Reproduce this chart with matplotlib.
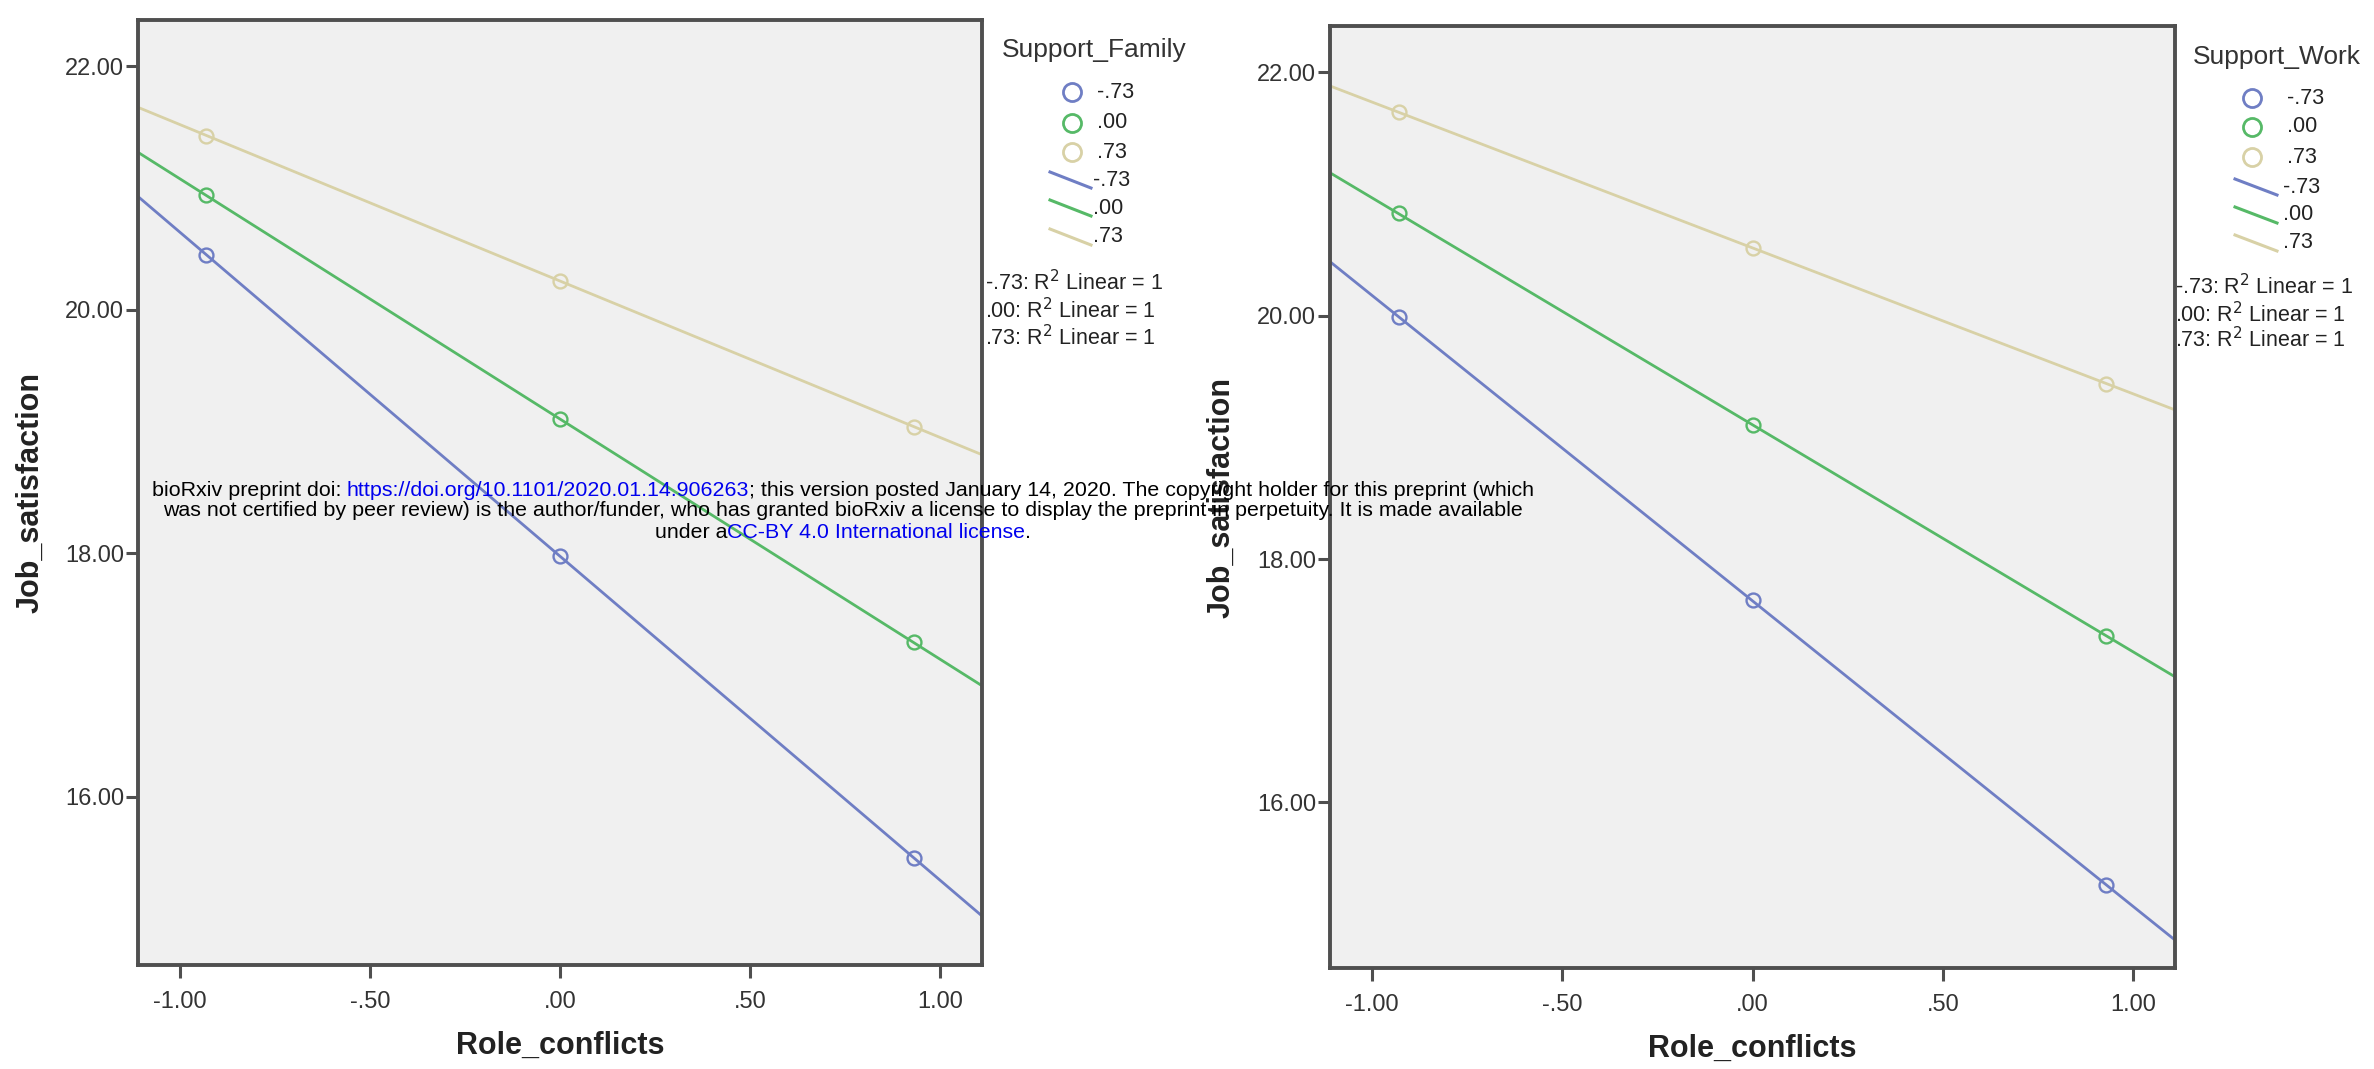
import numpy as np
import matplotlib
matplotlib.use("Agg")
import matplotlib.pyplot as plt
from matplotlib.lines import Line2D

plt.rcParams['font.family'] = ['Liberation Sans', 'DejaVu Sans']

# ---------------- data ----------------
role_conflicts = [-0.93, 0.00, 0.93]
moderator_levels = ['-.73', '.00', '.73']

family_low = [20.45, 17.98, 15.50]
family_mid = [20.94, 19.10, 17.27]
family_high = [21.43, 20.24, 19.04]

work_low = [19.99, 17.66, 15.32]
work_mid = [20.84, 19.10, 17.37]
work_high = [21.67, 20.56, 19.44]

y_ticks = [16, 18, 20, 22]
y_tick_labels = ['16.00', '18.00', '20.00', '22.00']
x_ticks = [-1.0, -0.5, 0.0, 0.5, 1.0]
x_tick_labels = ['-1.00', '-.50', '.00', '.50', '1.00']

x_label = 'Role_conflicts'
y_label = 'Job_satisfaction'
r2_labels = ['-.73: R$^2$ Linear = 1', '.00: R$^2$ Linear = 1', '.73: R$^2$ Linear = 1']

# ---------------- style ----------------
W, H = 2374, 1069
colors = ['#6f7ec4', '#56b967', '#d8d1a6']
spine_c = '#4f4f4f'
bg = '#f0f0f0'

fig = plt.figure(figsize=(W / 100, H / 100), dpi=100)
fig.patch.set_facecolor('white')


def fx(x):
    return x / W


def fy(y):
    return 1 - y / H


def make_axes(rect_px, ylim, series, legend_title, leg):
    l, t, r, b = rect_px
    ax = fig.add_axes([fx(l), fy(b), (r - l) / W, (b - t) / H])
    ax.set_facecolor(bg)
    xlim = (-1.11, 1.11)
    ax.set_xlim(*xlim)
    ax.set_ylim(*ylim)
    xs = np.array(role_conflicts)
    for vals, c in zip(series, colors):
        coef = np.polyfit(xs, np.array(vals), 1)
        xx = np.array(xlim)
        ax.plot(xx, np.polyval(coef, xx), color=c, lw=2.0, zorder=2, solid_capstyle='butt')
        ax.plot(xs, vals, linestyle='none', marker='o', ms=10, mfc='none',
                mec=c, mew=1.7, zorder=3)
    for s in ax.spines.values():
        s.set_color(spine_c)
        s.set_linewidth(2.8)
    ax.set_xticks(x_ticks)
    ax.set_xticklabels(x_tick_labels)
    ax.set_yticks(y_ticks)
    ax.set_yticklabels(y_tick_labels)
    ax.tick_params(axis='both', direction='out', length=9, width=2.2, color=spine_c,
                   labelsize=17, labelcolor='#333333', top=False, right=False)
    ax.tick_params(axis='y', pad=1)
    ax.tick_params(axis='x', pad=10)
    ax.set_xlabel(x_label, fontsize=22, fontweight='bold', color='#222222')
    ax.set_ylabel(y_label, fontsize=22, fontweight='bold', color='#222222')
    ax.xaxis.label.set_va('center')
    ax.yaxis.label.set_va('center')
    ax.xaxis.set_label_coords(0.5, -0.086)
    ax.yaxis.set_label_coords(-0.128, 0.5)

    # legend (drawn manually, SPSS style)
    tx, ty, mx, rows_m, rows_l, lx0, lx1, txt_x, r2x, r2rows = leg
    fig.text(fx(tx), fy(ty), legend_title, fontsize=19, color='#333333',
             ha='center', va='center')
    for i, (lvl, c) in enumerate(zip(moderator_levels, colors)):
        fig.add_artist(Line2D([fx(mx)], [fy(rows_m[i])], marker='o', ms=13, mfc='none',
                              mec=c, mew=2.0, linestyle='none', transform=fig.transFigure))
        fig.text(fx(txt_x), fy(rows_m[i]), lvl, fontsize=15.5, color='#222222',
                 ha='left', va='center')
        yl = rows_l[i]
        fig.add_artist(Line2D([fx(lx0), fx(lx1)], [fy(yl - 8), fy(yl + 8)], color=c,
                              lw=2.2, transform=fig.transFigure))
        fig.text(fx(txt_x - 4), fy(yl), lvl, fontsize=15.5, color='#222222',
                 ha='left', va='center')
    for i, s in enumerate(r2_labels):
        fig.text(fx(r2x), fy(r2rows[i]), s, fontsize=15.5, color='#222222',
                 ha='left', va='center')
    return ax


ax1 = make_axes((138, 20, 982, 965), (14.62, 22.38),
                [family_low, family_mid, family_high], 'Support_Family',
                (1094, 50, 1072, [92, 123, 152], [180, 208, 237], 1050, 1091, 1097,
                 985, [283, 311, 338]))
ax2 = make_axes((1330, 26, 2175, 968), (14.64, 22.38),
                [work_low, work_mid, work_high], 'Support_Work',
                (2277, 57, 2252, [98, 127, 157], [187, 215, 243], 2235, 2277, 2287,
                 2175, [287, 315, 340]))

# ---------------- bioRxiv watermark ----------------
blue = '#0000ee'
black = '#000000'
wm_lines = [
    [("bioRxiv preprint doi: ", black), ("https://doi.org/10.1101/2020.01.14.906263", blue),
     ("; this version posted January 14, 2020. The copyright holder for this preprint (which", black)],
    [("was not certified by peer review) is the author/funder, who has granted bioRxiv a license to display the preprint in perpetuity. It is made available", black)],
    [("under a", black), ("CC-BY 4.0 International license", blue), (".", black)],
]
renderer = fig.canvas.get_renderer()


def text_w(s, size):
    t = fig.text(0, 0, s + '|', fontsize=size)
    w = t.get_window_extent(renderer).width
    t.remove()
    t2 = fig.text(0, 0, '|', fontsize=size)
    w2 = t2.get_window_extent(renderer).width
    t2.remove()
    return w - w2


base = 13
full0 = ''.join(p for p, _ in wm_lines[0])
size = base * 1378 / text_w(full0, base)
cx = 843
for line, cy in zip(wm_lines, [490, 511, 532]):
    full = ''.join(p for p, _ in line)
    total = text_w(full, size)
    x0 = cx - total / 2
    acc = ''
    for piece, col in line:
        off = text_w(acc, size) if acc else 0
        fig.text(fx(x0 + off), fy(cy), piece, fontsize=size, color=col,
                 ha='left', va='center', zorder=10)
        acc += piece

fig.savefig('out.png', dpi=100, facecolor='white')
